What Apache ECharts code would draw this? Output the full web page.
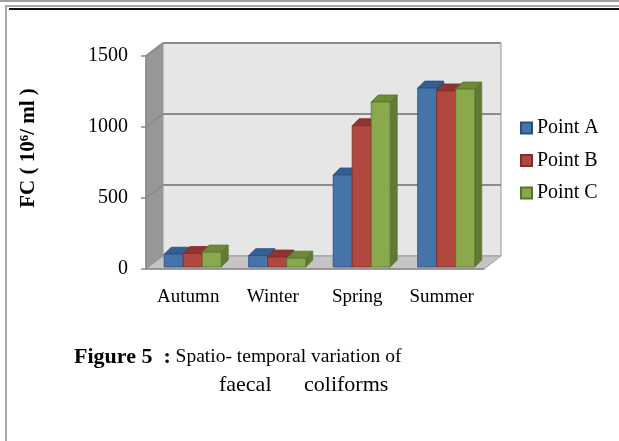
<!DOCTYPE html>
<html>
<head>
<meta charset="utf-8">
<script src="https://cdn.jsdelivr.net/npm/echarts@6/dist/echarts.min.js"></script>
<style>
html, body { margin: 0; padding: 0; background: #fff; }
#viz { width: 619px; height: 441px; }
</style>
</head>
<body>
<div id="viz"></div>
<script>
// values
var seasons = ['Autumn', 'Winter', 'Spring', 'Summer'];
var pointA = [90, 80, 648, 1260];
var pointB = [95, 70, 995, 1240];
var pointC = [105, 62, 1162, 1253];
var seriesNames = ['Point A', 'Point B', 'Point C'];
var yTicks = [500, 1000, 1500];

// 3d look
var WALL_DX = 17, WALL_DY = 13;
var BAR_DX = 7, BAR_DY = 7;
var shades = [
    { front: '#4674aa', top: '#335f92', side: '#2c5283', edge: '#2b4f7c' },
    { front: '#b0483f', top: '#8e3531', side: '#80302c', edge: '#7c2f2b' },
    { front: '#8aa84c', top: '#6e8a38', side: '#617a33', edge: '#5a7230' }
];
var serif = '"Liberation Serif", "Times New Roman", serif';

function wallsRender(params, api) {
    var cs = params.coordSys;
    var L = cs.x, R = cs.x + cs.width;
    var y0 = api.coord([0, 0])[1];
    var yTop = api.coord([0, 1500])[1];
    var kids = [];
    // side wall
    kids.push({ type: 'polygon', shape: { points: [[L, y0], [L + WALL_DX, y0 - WALL_DY], [L + WALL_DX, yTop - WALL_DY], [L, yTop]] },
        style: { fill: '#979797', stroke: '#8a8a8a', lineWidth: 1 } });
    // back wall
    kids.push({ type: 'polygon', shape: { points: [[L + WALL_DX, y0 - WALL_DY], [R + WALL_DX, y0 - WALL_DY], [R + WALL_DX, yTop - WALL_DY], [L + WALL_DX, yTop - WALL_DY]] },
        style: { fill: '#e6e6e6', stroke: '#9a9a9a', lineWidth: 1 } });
    // floor
    kids.push({ type: 'polygon', shape: { points: [[L, y0], [R, y0], [R + WALL_DX, y0 - WALL_DY], [L + WALL_DX, y0 - WALL_DY]] },
        style: { fill: '#c4c4c4', stroke: '#9a9a9a', lineWidth: 1 } });
    for (var i = 0; i < yTicks.length; i++) {
        var yv = api.coord([0, yTicks[i]])[1];
        kids.push({ type: 'line', shape: { x1: L + WALL_DX, y1: yv - WALL_DY, x2: R + WALL_DX, y2: yv - WALL_DY },
            style: { stroke: '#8c8c8c', lineWidth: 2 } });
        kids.push({ type: 'line', shape: { x1: L, y1: yv, x2: L + WALL_DX, y2: yv - WALL_DY },
            style: { stroke: '#8c8c8c', lineWidth: 2 } });
    }
    return { type: 'group', children: kids };
}

function barRender(si) {
    return function (params, api) {
        var cat = api.value(0), val = api.value(1);
        var base = api.coord([cat, 0]);
        var top = api.coord([cat, val]);
        var cw = api.size([1, 0])[0];
        var bw = cw * 0.225;
        var x0 = base[0] - cw * 0.285 + si * bw, x1 = x0 + bw;
        var yb = base[1] - 2, yt = top[1] - 2;
        var c = shades[si];
        return {
            type: 'group',
            children: [
                { type: 'polygon', shape: { points: [[x1, yt], [x1 + BAR_DX, yt - BAR_DY], [x1 + BAR_DX, yb - BAR_DY], [x1, yb]] },
                  style: { fill: c.side, stroke: c.edge, lineWidth: 0.8 } },
                { type: 'polygon', shape: { points: [[x0, yt], [x1, yt], [x1 + BAR_DX, yt - BAR_DY], [x0 + BAR_DX, yt - BAR_DY]] },
                  style: { fill: c.top, stroke: c.edge, lineWidth: 0.8 } },
                { type: 'rect', shape: { x: x0, y: yt, width: bw, height: yb - yt },
                  style: { fill: c.front, stroke: c.edge, lineWidth: 0.8 } }
            ]
        };
    };
}

var lists = [pointA, pointB, pointC];
var series = [{
    name: 'walls',
    type: 'custom',
    renderItem: wallsRender,
    data: [[0, 0]],
    z: 1,
    silent: true
}];
for (var s = 0; s < lists.length; s++) {
    var rows = [];
    for (var k = 0; k < seasons.length; k++) rows.push([k, lists[s][k]]);
    series.push({
        name: seriesNames[s],
        type: 'custom',
        renderItem: barRender(s),
        encode: { x: 0, y: 1 },
        itemStyle: { color: shades[s].front, borderColor: shades[s].edge, borderWidth: 1 },
        data: rows,
        z: 3,
        silent: true
    });
}

var myChart = echarts.init(document.getElementById('viz'));
var option = {
    animation: false,
    backgroundColor: '#fff',
    grid: { left: 146, right: 135, top: 56, bottom: 172 },
    xAxis: {
        type: 'category',
        data: seasons,
        axisLine: { lineStyle: { color: '#8a8a8a', width: 1.5 } },
        axisTick: { length: 6, lineStyle: { color: '#8a8a8a', width: 1.5 } },
        axisLabel: { fontFamily: serif, fontSize: 19, color: '#000', margin: 19 },
        z: 5
    },
    yAxis: {
        type: 'value',
        min: 0, max: 1500, interval: 500,
        axisLine: { show: true, lineStyle: { color: '#8a8a8a', width: 1.5 } },
        axisTick: { show: true, length: 5, lineStyle: { color: '#8a8a8a', width: 1.5 } },
        axisLabel: { fontFamily: serif, fontSize: 20, color: '#000', margin: 18,
                     formatter: function (v) { return String(v); } },
        splitLine: { show: false },
        z: 5
    },
    legend: {
        data: seriesNames,
        orient: 'vertical',
        left: 520, top: 118,
        padding: 0,
        icon: 'rect',
        itemWidth: 11, itemHeight: 11,
        itemGap: 12.5,
        textStyle: { fontFamily: serif, fontSize: 20, color: '#000', lineHeight: 20 }
    },
    graphic: [
        { type: 'line', shape: { x1: 0, y1: 1, x2: 619, y2: 1 }, style: { stroke: '#a0a0a0', lineWidth: 2 } },
        { type: 'rect', shape: { x: 6, y: 6, width: 640, height: 460 }, style: { fill: null, stroke: '#a8a8a8', lineWidth: 2 } },
        { type: 'line', shape: { x1: 9, y1: 9, x2: 619, y2: 9 }, style: { stroke: '#111', lineWidth: 2 } },
        { type: 'text', x: 29, y: 148, rotation: Math.PI / 2,
          style: { text: 'FC ( 10{sup|6}/ ml )', align: 'center', verticalAlign: 'middle',
                   font: 'bold 21px ' + serif, fill: '#000',
                   rich: { sup: { fontSize: 13, fontWeight: 'bold', fontFamily: serif, verticalAlign: 'top', padding: [0, 0, 8, 0] } } } },
        { type: 'text', x: 74, y: 357,
          style: { text: '{b|Figure 5  :} Spatio- temporal variation of', verticalAlign: 'middle',
                   font: '19.5px ' + serif, fill: '#000',
                   rich: { b: { fontWeight: 'bold', fontSize: 22, fontFamily: serif } } } },
        { type: 'text', x: 219, y: 385,
          style: { text: 'faecal', verticalAlign: 'middle', font: '22px ' + serif, fill: '#000' } },
        { type: 'text', x: 304, y: 385,
          style: { text: 'coliforms', verticalAlign: 'middle', font: '22px ' + serif, fill: '#000' } }
    ],
    series: series
};
myChart.setOption(option);
</script>
</body>
</html>
